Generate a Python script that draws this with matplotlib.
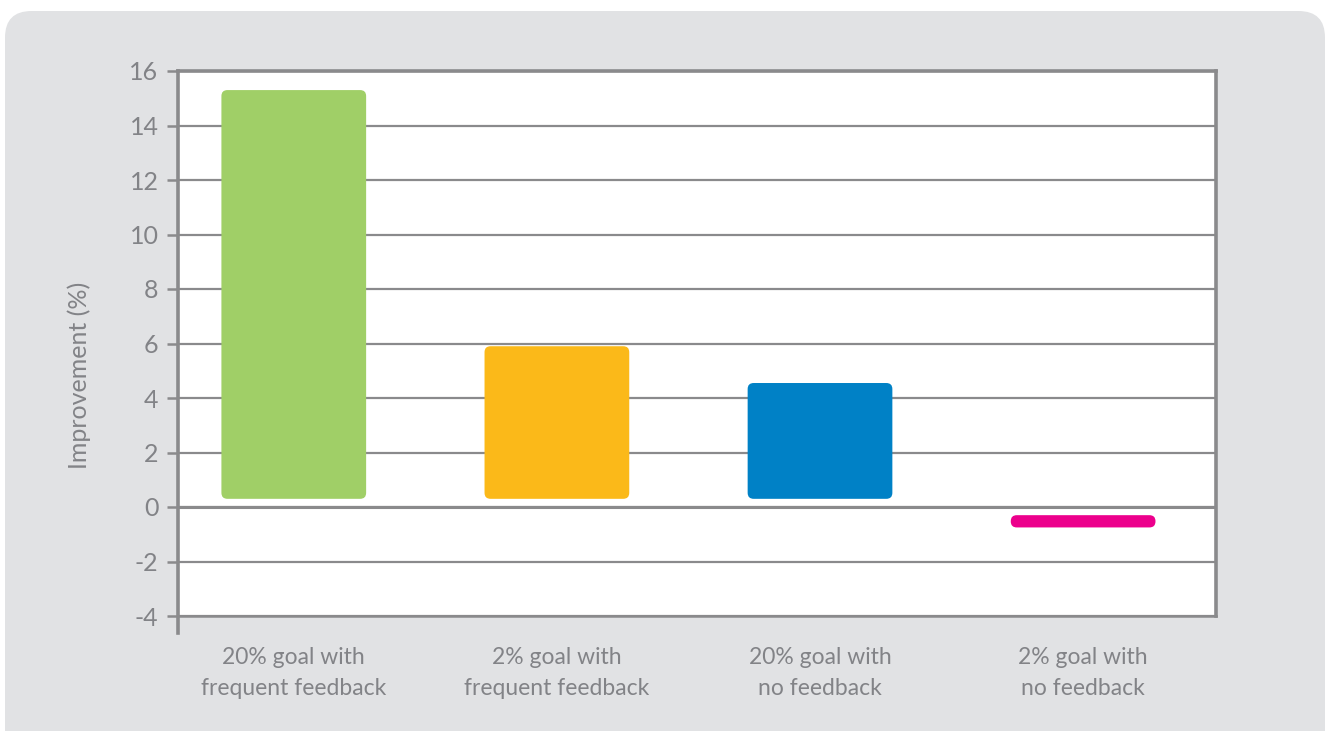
import numpy as np
import matplotlib.pyplot as plt
from matplotlib.patches import FancyBboxPatch

# --- data ---
categories = ['20% goal with\nfrequent feedback', '2% goal with\nfrequent feedback',
              '20% goal with\nno feedback', '2% goal with\nno feedback']
improvement = [15.3, 5.9, 4.55, -0.75]
colors = ['#a0cf67', '#fbb919', '#0081c6', '#ec008c']
yticks = [-4, -2, 0, 2, 4, 6, 8, 10, 12, 14, 16]

plt.rcParams['font.family'] = ['Lato', 'DejaVu Sans']
gray = '#828387'
line = '#8a8a8c'

fig = plt.figure(figsize=(13.28, 7.31), dpi=100)
fig.patch.set_facecolor('white')

# rounded grey card behind the chart (bottom runs off the image)
top = 1 - 11 / 731
card = FancyBboxPatch((5 / 1328, -0.05), 1320 / 1328, top + 0.05,
                      boxstyle='round,pad=0,rounding_size=0.02',
                      transform=fig.transFigure, facecolor='#e1e2e4',
                      edgecolor='none', mutation_aspect=1328 / 731, zorder=-5)
fig.patches.append(card)

ax = fig.add_axes([178 / 1328, 1 - 616 / 731, (1216 - 178) / 1328, (616 - 71) / 731])
ax.set_zorder(1)
ax.set_facecolor('white')
x = np.arange(len(categories))
ax.set_xlim(-0.44, 3.505)
ax.set_ylim(-4, 16)

# gap between bar and zero line, as in the original design
gap = 0.3
bars = ax.bar(x, [v - np.sign(v) * gap for v in improvement],
              bottom=[np.sign(v) * gap for v in improvement],
              width=0.55, color=colors)

# swap plain bars for rounded ones
fig.canvas.draw()
px_x = ax.transData.transform((1, 0))[0] - ax.transData.transform((0, 0))[0]
px_y = ax.transData.transform((0, 1))[1] - ax.transData.transform((0, 0))[1]
r = 6 / px_x
for b in bars:
    bx, w = b.get_x(), b.get_width()
    y0, y1 = sorted([b.get_y(), b.get_y() + b.get_height()])
    p = FancyBboxPatch((bx, y0), w, y1 - y0, boxstyle=f'round,pad=0,rounding_size={r}',
                       mutation_aspect=px_x / px_y, facecolor=b.get_facecolor(),
                       edgecolor='none', zorder=3)
    ax.add_patch(p)
    b.remove()

ax.set_yticks(yticks)
ax.set_yticklabels([str(t) for t in yticks])
ax.yaxis.grid(True, color=line, linewidth=1.6)
ax.set_axisbelow(True)
ax.axhline(0, color=line, linewidth=2.2, zorder=2)

ax.set_xticks(x)
ax.set_xticklabels(categories, linespacing=1.6)
ax.tick_params(axis='x', length=0, pad=22, labelsize=16.5, labelcolor=gray)
ax.tick_params(axis='y', length=8, width=1.8, color=line, pad=6, labelsize=18, labelcolor=gray)

for s in ['top', 'right']:
    ax.spines[s].set_color(line)
    ax.spines[s].set_linewidth(2.6)
ax.spines['bottom'].set_color(line)
ax.spines['bottom'].set_linewidth(1.8)
ax.spines['left'].set_color(line)
ax.spines['left'].set_linewidth(2.6)
ax.spines['left'].set_bounds(-4.62, 16)

ax.set_ylabel('Improvement (%)', fontsize=18, color=gray)
ax.yaxis.set_label_coords(-0.084, 0.442)

fig.savefig('out.png', dpi=100)
